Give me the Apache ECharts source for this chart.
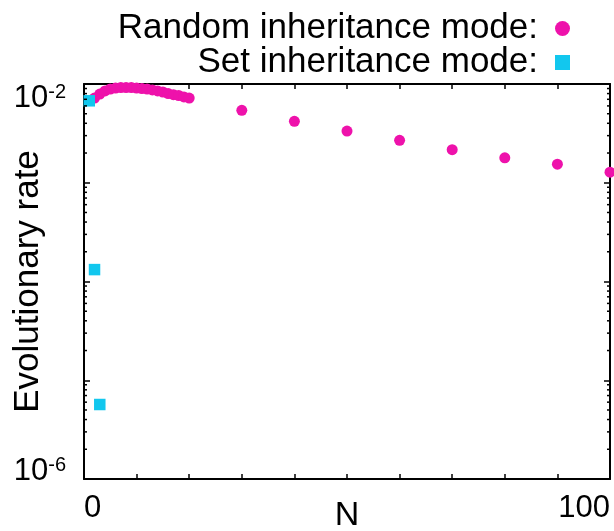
<!DOCTYPE html>
<html>
<head>
<meta charset="utf-8">
<script src="https://cdn.jsdelivr.net/npm/echarts@6/dist/echarts.min.js"></script>
<style>
html,body{margin:0;padding:0;background:#fff;}
#c{width:614px;height:531px;}
</style>
</head>
<body>
<div id="c"></div>
<script>
// ---- data ----
const randomN = [2,3,4,5,6,7,8,9,10,11,12,13,14,15,16,17,18,19,20,30,40,50,60,70,80,90,100];
const randomRate = [7.2e-3,7.9e-3,8.5e-3,8.9e-3,9.1e-3,9.2e-3,9.2e-3,9.2e-3,9.1e-3,9.0e-3,8.9e-3,8.7e-3,8.5e-3,8.3e-3,8.0e-3,7.8e-3,7.65e-3,7.4e-3,7.2e-3,
  5.42e-3,4.19e-3,3.34e-3,2.69e-3,2.16e-3,1.79e-3,1.54e-3,1.28e-3];
const setN = [1,2,3];
const setRate = [6.76e-3,1.32e-4,5.68e-6];

const seriesNames = ['Random inheritance mode:', 'Set inheritance mode:'];
const xLabelValues = [0, 100];
const yLabelExponents = [-6, -2];
const yDecades = [-6, -5, -4, -3];
const minorMultipliers = [2,3,4,5,6,7,8,9];

const xMin = 0, xMax = 100, xInterval = 10;
const yMin = 1e-6, yMax = 1e-2;

const pink = '#ee12ab';
const cyan = '#12c7ee';
const font = '"Liberation Sans", Arial, Helvetica, sans-serif';

const minorVals = [];
yDecades.forEach(d => minorMultipliers.forEach(m => minorVals.push([xMin, m * Math.pow(10, d)])));

const chart = echarts.init(document.getElementById('c'), null, {renderer: 'canvas'});

const legendBase = {
  orient: 'horizontal', align: 'right', right: 44,
  itemWidth: 15, itemHeight: 15, padding: 0,
  textStyle: {fontFamily: font, fontSize: 35, color: '#000', padding: [0, 12, 0, 0]},
  selectedMode: false
};

chart.setOption({
  animation: false,
  backgroundColor: '#fff',
  textStyle: {fontFamily: font},
  grid: {left: 84, right: 4, top: 84, bottom: 52, containLabel: false, outerBoundsMode: 'none'},
  legend: [
    Object.assign({}, legendBase, {top: 11, data: [{name: seriesNames[0], icon: 'circle'}]}),
    Object.assign({}, legendBase, {top: 45, data: [{name: seriesNames[1], icon: 'rect'}]})
  ],
  xAxis: [{
    type: 'value', min: xMin, max: xMax, interval: xInterval,
    name: 'N', nameLocation: 'middle', nameGap: 20, nameMoveOverlap: false,
    nameTextStyle: {fontFamily: font, fontSize: 34, color: '#000'},
    axisLine: {show: true, onZero: false, lineStyle: {color: '#000', width: 2}},
    axisTick: {show: true, inside: true, length: 5, lineStyle: {color: '#000', width: 1.5}},
    axisLabel: {
      show: true, margin: 14, fontFamily: font, fontSize: 31, color: '#000',
      alignMinLabel: 'left', alignMaxLabel: 'right',
      formatter: v => xLabelValues.indexOf(v) >= 0 ? String(v) : ''
    },
    splitLine: {show: false}
  }, {
    type: 'value', position: 'top', min: xMin, max: xMax, interval: xInterval,
    axisLine: {show: true, onZero: false, lineStyle: {color: '#000', width: 2}},
    axisTick: {show: true, inside: true, length: 5, lineStyle: {color: '#000', width: 1.5}},
    axisLabel: {show: false}, splitLine: {show: false}
  }],
  yAxis: [{
    type: 'log', logBase: 10, min: yMin, max: yMax,
    name: 'Evolutionary rate', nameLocation: 'middle', nameGap: 38, nameMoveOverlap: false,
    nameTextStyle: {fontFamily: font, fontSize: 35, color: '#000'},
    axisLine: {show: true, onZero: false, lineStyle: {color: '#000', width: 2}},
    axisTick: {show: true, inside: true, length: 6, lineStyle: {color: '#000', width: 1.5}},
    axisLabel: {
      show: true, margin: 18, color: '#000',
      formatter: v => {
        const e = Math.round(Math.log10(v));
        if (yLabelExponents.indexOf(e) < 0) return '';
        const k = e === yLabelExponents[1] ? 'hi' : 'lo';
        return '{b' + k + '|10}{s' + k + '|' + e + '}';
      },
      rich: {
        bhi: {fontFamily: font, fontSize: 31, color: '#000', padding: [28, 0, 0, 0]},
        shi: {fontFamily: font, fontSize: 20, color: '#000', verticalAlign: 'top', padding: [28, 0, 0, 0]},
        blo: {fontFamily: font, fontSize: 31, color: '#000', padding: [0, 0, 16, 0]},
        slo: {fontFamily: font, fontSize: 20, color: '#000', verticalAlign: 'top', padding: [0, 0, 16, 0]}
      }
    },
    splitLine: {show: false}, minorTick: {show: false}
  }, {
    type: 'log', logBase: 10, min: yMin, max: yMax, position: 'right',
    axisLine: {show: true, onZero: false, lineStyle: {color: '#000', width: 2}},
    axisTick: {show: true, inside: true, length: 6, lineStyle: {color: '#000', width: 1.5}},
    axisLabel: {show: false}, splitLine: {show: false}
  }],
  series: [{
    type: 'custom', silent: true, clip: false, xAxisIndex: 0, yAxisIndex: 0,
    data: minorVals, z: 5,
    renderItem: (params, api) => {
      const v = api.value(1);
      const p = api.coord([xMin, v]);
      const q = api.coord([xMax, v]);
      const st = {stroke: '#000', lineWidth: 1.5};
      return {type: 'group', children: [
        {type: 'line', shape: {x1: p[0], y1: p[1], x2: p[0] + 3, y2: p[1]}, style: st},
        {type: 'line', shape: {x1: q[0] - 3, y1: q[1], x2: q[0], y2: q[1]}, style: st}
      ]};
    }
  }, {
    name: seriesNames[0], type: 'scatter', symbol: 'circle', symbolSize: 11, clip: false,
    xAxisIndex: 0, yAxisIndex: 0,
    itemStyle: {color: pink, opacity: 1},
    data: randomN.map((n, i) => [n, randomRate[i]]), z: 3
  }, {
    name: seriesNames[1], type: 'scatter', symbol: 'rect', symbolSize: 11.5, clip: false,
    xAxisIndex: 0, yAxisIndex: 0,
    itemStyle: {color: cyan, opacity: 1},
    data: setN.map((n, i) => [n, setRate[i]]), z: 4
  }]
});
</script>
</body>
</html>
